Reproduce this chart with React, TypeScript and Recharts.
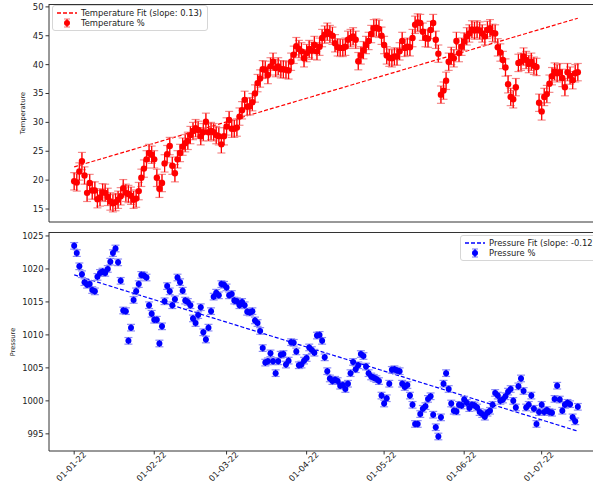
import { ComposedChart, Scatter, Line, XAxis, YAxis, ErrorBar, Legend } from "recharts";

const FONT = "DejaVu Sans, sans-serif";

// daily readings, 01-01-22 onwards
const temperature = [
  19.8, 19.6, 21.5, 23.3, 20.8, 17.8, 19.5, 18.2, 18.2, 16.7,
  17.0, 17.9, 17.8, 17.1, 16.3, 16.0, 16.2, 16.6, 17.2, 18.6,
  17.8, 17.6, 17.3, 16.6, 16.8, 18.1, 20.4, 22.0, 23.6, 24.7,
  24.4, 23.6, 20.4, 18.5, 19.5, 22.9, 24.5, 25.9, 22.5, 21.2,
  23.6, 24.7, 25.8, 26.4, 26.8, 27.8, 28.5, 29.0, 28.7, 27.6,
  28.3, 30.1, 28.3, 28.5, 28.3, 27.8, 27.6, 26.2, 27.6, 29.3,
  30.4, 28.9, 28.9, 29.1, 31.0, 32.1, 33.9, 32.7, 32.8, 33.5,
  35.0, 36.8, 37.6, 39.2, 39.1, 38.2, 39.7, 40.5, 39.4, 39.7,
  39.2, 39.2, 39.1, 39.0, 40.5, 41.7, 43.2, 42.7, 42.3, 41.1,
  42.0, 42.7, 42.4, 43.4, 42.3, 43.1, 44.6, 45.2, 45.7, 45.3,
  45.0, 43.7, 43.0, 42.9, 42.9, 43.1, 44.3, 44.6, 44.9, 44.3,
  40.6, 41.6, 42.5, 43.4, 44.1, 45.3, 46.3, 46.4, 46.2, 45.0,
  43.4, 41.6, 41.2, 41.1, 41.4, 41.4, 42.3, 44.1, 42.9, 43.1,
  43.0, 44.6, 46.9, 47.3, 47.2, 45.7, 44.6, 44.5, 46.0, 47.2,
  44.3, 41.9, 34.8, 35.5, 37.2, 40.5, 41.5, 41.1, 44.1, 42.0,
  43.1, 44.0, 44.9, 45.4, 46.1, 45.9, 46.1, 45.9, 45.4, 44.9,
  46.0, 46.3, 45.5, 45.4, 43.0, 42.1, 40.8, 39.5, 36.6, 34.4,
  34.0, 36.1, 40.3, 40.5, 41.4, 40.8, 40.1, 40.5, 39.8, 39.6,
  33.4, 31.9, 34.4, 34.9, 36.7, 38.0, 38.8, 38.5, 38.7, 37.7,
  36.1, 38.7, 38.1, 37.3, 38.5, 38.7,
];

const pressure = [
  1023.5, 1022.4, 1020.4, 1019.2, 1018.0, 1017.6, 1017.7, 1016.8, 1016.6, 1018.8,
  1019.4, 1019.6, 1019.4, 1020.0, 1021.1, 1022.4, 1023.1, 1021.0, 1018.2, 1013.7,
  1013.6, 1009.1, 1011.1, 1015.3, 1016.6, 1017.7, 1019.1, 1019.0, 1018.7, 1014.5,
  1013.2, 1012.3, 1012.3, 1008.7, 1011.3, 1015.1, 1017.4, 1016.6, 1014.5, 1015.4,
  1018.7, 1018.0, 1016.7, 1015.2, 1015.0, 1014.5, 1012.5, 1011.8, 1013.0, 1014.2,
  1010.4, 1009.3, 1011.1, 1013.6, 1015.8, 1016.4, 1016.0, 1017.7, 1017.6, 1017.2,
  1016.0, 1016.2, 1015.2, 1015.1, 1014.5, 1015.0, 1014.5, 1013.5, 1013.4, 1013.6,
  1012.2, 1011.8, 1010.6, 1008.0, 1005.8, 1006.0, 1007.2, 1006.0, 1004.2, 1006.0,
  1007.0, 1007.1, 1005.5, 1006.1, 1008.9, 1008.8, 1007.5, 1005.4, 1005.5, 1006.1,
  1006.5, 1008.1, 1007.7, 1007.3, 1009.9, 1010.0, 1009.1, 1006.6, 1004.5, 1003.4,
  1003.0, 1003.2, 1003.0, 1002.3, 1002.4, 1001.8, 1002.6, 1004.2, 1005.9, 1004.8,
  1005.4, 1007.1, 1006.8, 1005.2, 1004.2, 1003.7, 1003.5, 1003.3, 1003.0, 1000.8,
  999.6, 1000.4, 1002.6, 1004.7, 1004.8, 1004.6, 1004.5, 1002.6, 1002.1, 1002.4,
  1000.8, 999.4, 996.5, 996.5, 998.0, 998.8, 999.2, 1000.3, 1000.7, 997.9,
  996.0, 994.6, 997.5, 1002.6, 1004.2, 1001.8, 999.6, 998.5, 998.4, 999.4,
  999.3, 1000.2, 999.7, 998.9, 999.4, 999.3, 999.0, 998.3, 998.0, 997.6,
  998.2, 998.5, 999.4, 1001.2, 1000.8, 1000.0, 1000.2, 1000.7, 1001.4, 1001.8,
  1000.0, 999.0, 1002.2, 1003.4, 1001.5, 999.0, 999.4, 1000.8, 998.8, 996.5,
  998.3, 999.4, 998.3, 998.6, 998.3, 998.2, 1000.3, 1002.3, 1000.2, 998.5,
  999.4, 999.7, 999.5, 997.5, 996.9, 999.1,
];

const tempError = 1.5;
const pressureError = 0.5;

const tempFit = { intercept: 22.3, slope: 0.132 };
const pressureFit = { intercept: 1019.1, slope: -0.1215 };

const monthTicks = [0, 31, 59, 90, 120, 151, 181];
const monthLabels = ["01-01-22", "01-02-22", "01-03-22", "01-04-22", "01-05-22", "01-06-22", "01-07-22"];
const tempTicks = [15, 20, 25, 30, 35, 40, 45, 50];
const pressureTicks = [995, 1000, 1005, 1010, 1015, 1020, 1025];

const data = temperature.map((t, i) => ({
  day: i,
  temp: t,
  tempErr: tempError,
  tempFit: tempFit.intercept + tempFit.slope * i,
  pres: pressure[i],
  presErr: pressureError,
  presFit: pressureFit.intercept + pressureFit.slope * i,
}));

const CHART_W = 620;
const X_DOMAIN = [-9.75, 204.75];
const SPINE = "#333";
const FS = 8.4;
const tickStyle = { fontSize: FS, fill: "#222", fontFamily: FONT };

const DateTick = (props: any) => {
  const { x, y, payload } = props;
  const label = monthLabels[monthTicks.indexOf(payload.value)];
  const cx = x - 3;
  const cy = y + 10;
  return (
    <text
      x={cx}
      y={cy}
      transform={`rotate(-45, ${cx}, ${cy})`}
      textAnchor="middle"
      dominantBaseline="central"
      fontSize={FS}
      fill="#222"
      fontFamily={FONT}
    >
      {label}
    </text>
  );
};

const AxisTitle = (props: any) => {
  const { tx, ty, text } = props;
  return (
    <text
      x={tx}
      y={ty}
      transform={`rotate(-90, ${tx}, ${ty})`}
      textAnchor="middle"
      dominantBaseline="central"
      fontSize={6.7}
      fill="#222"
      fontFamily={FONT}
    >
      {text}
    </text>
  );
};

const LegendRow = ({ kind, color, capColor, text }: { kind: string; color: string; capColor: string; text: string }) => (
  <div style={{ display: "flex", alignItems: "center", height: 10 }}>
    <svg width={20} height={10} style={{ marginRight: 4 }}>
      {kind === "line" ? (
        <line x1={0} x2={20} y1={5} y2={5} stroke={color} strokeWidth={1.3} strokeDasharray="4 2" />
      ) : (
        <g strokeWidth={1.2}>
          <line x1={7} x2={13} y1={1} y2={1} stroke={capColor} />
          <line x1={7} x2={13} y1={9} y2={9} stroke={capColor} />
          <line x1={10} x2={10} y1={1} y2={9} stroke={color} />
          <circle cx={10} cy={5} r={3} fill={color} />
        </g>
      )}
    </svg>
    <span style={{ whiteSpace: "nowrap" }}>{text}</span>
  </div>
);

const LegendBox = (props: { color: string; capColor: string; fitText: string; dataText: string }) => (
  <div
    style={{
      background: "rgba(255,255,255,0.8)",
      border: "1px solid #d6d6d6",
      borderRadius: 3,
      padding: "2px 5px 2px 4px",
      fontFamily: FONT,
      fontSize: FS,
      color: "#222",
      lineHeight: "10px",
    }}
  >
    <LegendRow kind="line" color={props.color} capColor={props.capColor} text={props.fitText} />
    <LegendRow kind="marker" color={props.color} capColor={props.capColor} text={props.dataText} />
  </div>
);

const dot = (color: string, r: number) => (p: any) => <circle cx={p.cx} cy={p.cy} r={r} fill={color} />;

export default function App() {
  return (
    <div style={{ position: "absolute", left: 0, top: 0, width: 593, height: 486, overflow: "hidden", background: "#fff" }}>
      <div style={{ position: "absolute", left: 0, top: 0 }}>
        <ComposedChart width={CHART_W} height={232} data={data} margin={{ top: 4, right: 17, bottom: 0, left: 0 }}>
          <XAxis
            dataKey="day"
            type="number"
            domain={X_DOMAIN}
            ticks={monthTicks}
            allowDataOverflow
            tick={false}
            tickSize={3.5}
            height={10}
            stroke={SPINE}
          />
          <YAxis
            type="number"
            domain={[12.75, 50.5]}
            ticks={tempTicks}
            allowDataOverflow
            width={49}
            tickSize={3.5}
            tickMargin={2}
            tick={tickStyle}
            stroke={SPINE}
            label={<AxisTitle tx={23} ty={113} text="Temperature" />}
          />
          <Line dataKey="tempFit" stroke="#ff0000" strokeWidth={1.2} strokeDasharray="4 2" dot={false} isAnimationActive={false} />
          <Scatter dataKey="temp" fill="#ff0000" shape={dot("#ff0000", 3.2)} isAnimationActive={false}>
            <ErrorBar dataKey="tempErr" direction="y" width={4} stroke="#f48a8a" strokeWidth={1.2} isAnimationActive={false} />
            <ErrorBar dataKey="tempErr" direction="y" width={0} stroke="#ff0000" strokeWidth={1.2} isAnimationActive={false} />
          </Scatter>
          <Legend
            layout="vertical"
            align="center"
            verticalAlign="middle"
            wrapperStyle={{ left: 52, top: 5, width: "auto", height: "auto" }}
            content={() => <LegendBox color="#ff0000" capColor="#f48a8a" fitText="Temperature Fit (slope: 0.13)" dataText="Temperature %" />}
          />
        </ComposedChart>
        <div style={{ position: "absolute", left: 49, top: 4, width: 554, height: 218, borderTop: `1px solid ${SPINE}`, pointerEvents: "none" }} />
      </div>

      <div style={{ position: "absolute", left: 0, top: 232 }}>
        <ComposedChart width={CHART_W} height={254} data={data} margin={{ top: 0, right: 17, bottom: 0, left: 0 }}>
          <XAxis
            dataKey="day"
            type="number"
            domain={X_DOMAIN}
            ticks={monthTicks}
            allowDataOverflow
            tick={<DateTick />}
            tickSize={3.5}
            height={35}
            stroke={SPINE}
          />
          <YAxis
            type="number"
            domain={[992.4, 1025.6]}
            ticks={pressureTicks}
            allowDataOverflow
            width={49}
            tickSize={3.5}
            tickMargin={2}
            tick={tickStyle}
            stroke={SPINE}
            label={<AxisTitle tx={13} ty={110} text="Pressure" />}
          />
          <Line dataKey="presFit" stroke="#0000ff" strokeWidth={1.2} strokeDasharray="4 2" dot={false} isAnimationActive={false} />
          <Scatter dataKey="pres" fill="#0000ff" shape={dot("#0000ff", 3)} isAnimationActive={false}>
            <ErrorBar dataKey="presErr" direction="y" width={4} stroke="#8c8cf4" strokeWidth={1.2} isAnimationActive={false} />
            <ErrorBar dataKey="presErr" direction="y" width={0} stroke="#0000ff" strokeWidth={1.2} isAnimationActive={false} />
          </Scatter>
          <Legend
            layout="vertical"
            align="center"
            verticalAlign="middle"
            wrapperStyle={{ left: 460, top: 3, width: "auto", height: "auto" }}
            content={() => <LegendBox color="#0000ff" capColor="#8c8cf4" fitText="Pressure Fit (slope: -0.12)" dataText="Pressure %" />}
          />
        </ComposedChart>
        <div style={{ position: "absolute", left: 49, top: 0, width: 554, height: 219, borderTop: `1px solid ${SPINE}`, pointerEvents: "none" }} />
      </div>
    </div>
  );
}
